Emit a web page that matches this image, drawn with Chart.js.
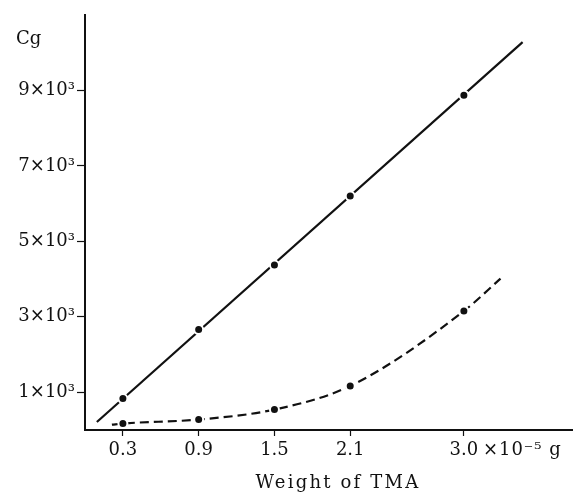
<!DOCTYPE html>
<html>
<head>
<meta charset="utf-8">
<script src="https://cdn.jsdelivr.net/npm/chart.js@4/dist/chart.umd.min.js"></script>
<style>
  html, body { margin: 0; padding: 0; background: #ffffff; }
  #wrap { width: 573px; height: 495px; position: relative; }
</style>
</head>
<body>
<div id="wrap"><canvas id="c"></canvas></div>
<script>
// ---- data ----
const weightTicks = [0.3, 0.9, 1.5, 2.1, 3.0];          // ×10⁻⁵ g
const cgTicks = [1000, 3000, 5000, 7000, 9000];
const weights = [0.3, 0.9, 1.5, 2.1, 3.0];
const cgUpper = [833, 2661, 4372, 6200, 8875];          // solid line points
const cgLower = [171, 277, 542, 1168, 3154];            // dashed curve points
const upperFitX = [0.094, 3.465];                        // ends of drawn straight line
const upperFitY = [213, 10280];
const lowerCurveX = [0.213, 0.3, 0.9, 1.5, 2.1, 3.0, 3.29]; // drawn dashed curve
const lowerCurveY = [140, 171, 277, 542, 1168, 3154, 4012];
const xLabelUnit = '×10⁻⁵ g';
const yLabelName = 'Cg';
const xTitle = 'Weight of TMA';

const toXY = (xs, ys) => xs.map((x, i) => ({ x: x, y: ys[i] }));

const FONT = 'DejaVu Serif';
const INK = '#111111';

const textPlugin = {
  id: 'extraText',
  afterDraw(chart) {
    const ctx = chart.ctx;
    const xs = chart.scales.x;
    ctx.save();
    ctx.fillStyle = INK;
    ctx.font = '18px "' + FONT + '"';
    ctx.textBaseline = 'middle';
    // y-axis name
    ctx.textAlign = 'left';
    ctx.fillText(yLabelName, 16, 39);
    // unit after last x tick
    const tickY = xs.top + 6 + 4 + 10.8;
    ctx.letterSpacing = '1px';
    ctx.fillText(xLabelUnit, xs.getPixelForValue(3.0) + 19, tickY);
    // x title
    ctx.letterSpacing = '2.2px';
    ctx.textAlign = 'center';
    ctx.fillText(xTitle, (chart.chartArea.left + chart.chartArea.right) / 2 + 9, 483);
    ctx.restore();
  }
};

new Chart(document.getElementById('c'), {
  type: 'scatter',
  data: {
    datasets: [
      {
        label: 'upper points',
        data: toXY(weights, cgUpper),
        pointRadius: 4.5,
        pointBackgroundColor: INK,
        pointBorderColor: '#ffffff',
        pointBorderWidth: 2,
        order: 0
      },
      {
        label: 'lower points',
        data: toXY(weights, cgLower),
        pointRadius: 4.5,
        pointBackgroundColor: INK,
        pointBorderColor: '#ffffff',
        pointBorderWidth: 2,
        order: 0
      },
      {
        label: 'upper line',
        data: toXY(upperFitX, upperFitY),
        showLine: true,
        pointRadius: 0,
        borderColor: INK,
        borderWidth: 2.2,
        order: 1
      },
      {
        label: 'lower curve',
        data: toXY(lowerCurveX, lowerCurveY),
        showLine: true,
        pointRadius: 0,
        borderColor: INK,
        borderWidth: 2.2,
        borderDash: [9, 5],
        cubicInterpolationMode: 'monotone',
        order: 1
      }
    ]
  },
  options: {
    responsive: true,
    maintainAspectRatio: false,
    animation: false,
    devicePixelRatio: 1,
    layout: { autoPadding: false, padding: { top: 15, left: 0, right: 0, bottom: 0 } },
    plugins: {
      legend: { display: false },
      tooltip: { enabled: false },
      title: { display: false }
    },
    scales: {
      x: {
        type: 'linear',
        min: 0,
        max: 3.864,
        afterBuildTicks: (s) => { s.ticks = weightTicks.map(v => ({ value: v })); },
        afterFit: (s) => { s.height = 65; },
        ticks: {
          color: INK,
          padding: 4,
          font: { family: FONT, size: 18 },
          callback: (v) => v.toFixed(1),
          maxRotation: 0,
          autoSkip: false
        },
        grid: {
          display: true,
          drawOnChartArea: false,
          drawTicks: true,
          tickLength: 6,
          tickWidth: 1.2,
          tickColor: INK
        },
        border: { display: true, color: INK, width: 2 },
        title: { display: false }
      },
      y: {
        type: 'linear',
        min: 0,
        max: 11000,
        afterBuildTicks: (s) => { s.ticks = cgTicks.map(v => ({ value: v })); },
        afterFit: (s) => { s.width = 85; },
        ticks: {
          color: INK,
          padding: 2,
          font: { family: FONT, size: 18 },
          callback: (v) => (v / 1000) + '×10³',
          autoSkip: false
        },
        grid: {
          display: true,
          drawOnChartArea: false,
          drawTicks: true,
          tickLength: 8,
          tickWidth: 1.2,
          tickColor: INK
        },
        border: { display: true, color: INK, width: 2 }
      }
    }
  },
  plugins: [textPlugin]
});
</script>
</body>
</html>
